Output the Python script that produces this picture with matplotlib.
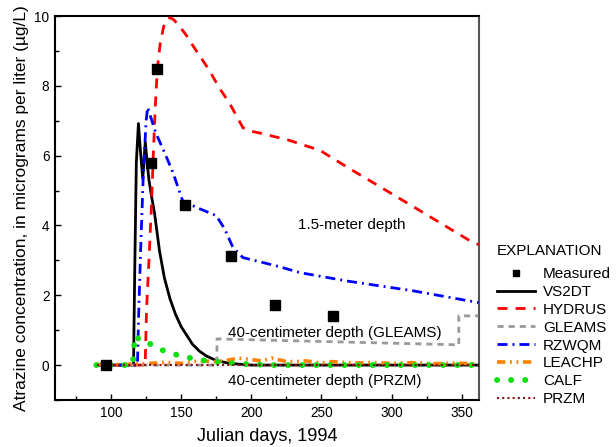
import numpy as np
import matplotlib
matplotlib.use("Agg")
import matplotlib.pyplot as plt
from matplotlib import font_manager

# measured atrazine (ug/L)
meas_days = [96.5, 128.6, 132.4, 152.4, 185.2, 216.7, 258.0]
meas_conc = [0.0, 5.8, 8.48, 4.6, 3.13, 1.71, 1.4]

# VS2DT
vs2dt_days = [90, 116, 116.8, 118, 119.5, 121, 122.6, 123.5, 124.4, 125.5, 127, 129, 131,
              134.5, 138, 142, 146, 150, 154, 158, 163, 168, 175, 182, 190, 200, 362]
vs2dt_conc = [0, 0, 2.5, 5.8, 6.92, 6.1, 5.34, 5.9, 6.39, 5.9, 5.3, 4.8, 4.35,
              3.28, 2.5, 1.9, 1.45, 1.1, 0.85, 0.6, 0.4, 0.26, 0.13, 0.07, 0.03, 0.0, 0.0]

# HYDRUS
hydrus_days = [90, 124.3, 125.3, 127, 128.6, 130, 131.5, 133, 135, 137.5, 140, 142, 144.5, 148,
               153.6, 160, 170, 177, 184.5, 194, 200, 208, 227, 249, 270, 288, 320, 356, 362]
hydrus_conc = [0, 0, 1.6, 3.0, 4.4, 5.9, 7.4, 8.5, 9.2, 9.7, 9.92, 9.95, 9.9, 9.75,
               9.45, 9.05, 8.45, 7.95, 7.5, 6.8, 6.7, 6.63, 6.44, 6.15, 5.63, 5.2, 4.43, 3.56, 3.45]

# GLEAMS
gleams_days = [90, 175.5, 175.5, 348, 348, 362]
gleams_conc = [0, 0, 0.75, 0.58, 1.41, 1.41]

# RZWQM
rzwqm_days = [90, 118.8, 119.7, 121, 123, 125, 126.1, 127.5, 132, 138, 144, 151, 160.7, 175,
              181, 186.9, 194, 220, 234.5, 268, 315, 340, 362]
rzwqm_conc = [0, 0, 1.5, 3.2, 5.5, 7.0, 7.39, 7.2, 6.64, 6.1, 5.53, 4.71, 4.52, 4.28,
              3.9, 3.37, 3.08, 2.82, 2.65, 2.41, 2.13, 1.95, 1.79]

# LEACHP
leachp_days = [90, 110, 125, 139, 150, 163, 175, 183, 191, 200, 207, 215, 225, 232, 239,
               250, 258, 265, 275, 287, 300, 315, 330, 345, 362]
leachp_conc = [0.02, 0.02, 0.04, 0.08, 0.05, 0.12, 0.1, 0.14, 0.2, 0.16, 0.12, 0.2, 0.1, 0.1, 0.12,
               0.06, 0.1, 0.08, 0.06, 0.07, 0.05, 0.07, 0.04, 0.06, 0.03]

# CALF
calf_days = [89.5, 115.5, 116.3, 117, 118, 119.5, 122, 128.6, 138, 148, 158, 168, 180, 195, 215, 362]
calf_conc = [0, 0, 0.5, 0.83, 0.85, 0.75, 0.65, 0.6, 0.4, 0.28, 0.19, 0.12, 0.07, 0.03, 0.0, 0.0]

# PRZM
przm_days = [90, 362]
przm_conc = [0, 0]

legend_order = ['Measured', 'VS2DT', 'HYDRUS', 'GLEAMS', 'RZWQM', 'LEACHP', 'CALF', 'PRZM']

sans = ['Liberation Sans', 'DejaVu Sans']
plt.rcParams['font.family'] = sans

# narrow font for tick numbers if we have one
names = set(f.name for f in font_manager.fontManager.ttflist)
if 'Liberation Sans Narrow' in names:
    tick_family, tick_size = ['Liberation Sans Narrow', 'DejaVu Sans'], 10.5
else:
    tick_family, tick_size = sans, 9.8

fig = plt.figure(figsize=(6.16, 4.47), dpi=100)
ax = fig.add_axes([55 / 616, 47 / 447, 424 / 616, 384 / 447])

ax.plot(vs2dt_days, vs2dt_conc, color='black', lw=2.0, label='VS2DT', zorder=3)
ax.plot(hydrus_days, hydrus_conc, color='#ff0000', lw=2.0, ls=(0, (3.6, 2.9)), label='HYDRUS', zorder=3)
ax.plot(gleams_days, gleams_conc, color='#999999', lw=2.0, ls=(0, (2.2, 1.8)), label='GLEAMS', zorder=3)
ax.plot(rzwqm_days, rzwqm_conc, color='#0000ff', lw=2.0, ls=(0, (3.6, 1.8, 0.7, 1.8)), label='RZWQM', zorder=3)
ax.plot(leachp_days, leachp_conc, color='#ff8000', lw=2.6, ls=(0, (2.3, 1.3, 0.5, 1.3, 0.5, 1.3)),
        label='LEACHP', zorder=3)
ax.plot(calf_days, calf_conc, color='#10e010', lw=4.3, ls=(0, (0.01, 2.35)), dash_capstyle='round',
        label='CALF', zorder=4)
ax.plot(przm_days, przm_conc, color='#8b1010', lw=1.5, ls=(0, (1, 1.5)), label='PRZM', zorder=5)
ax.plot(meas_days, meas_conc, ls='none', marker='s', ms=7.5, color='black', label='Measured', zorder=6)

ax.set_xlim(60, 362.4)
ax.set_ylim(-1, 10)
ax.set_xticks([100, 150, 200, 250, 300, 350])
ax.set_xticks([75, 125, 175, 225, 275, 325], minor=True)
ax.set_yticks([0, 2, 4, 6, 8, 10])
ax.set_yticks([-1, 1, 3, 5, 7, 9], minor=True)
ax.tick_params(which='both', direction='in', top=False, right=False)
ax.tick_params(which='major', length=4.5, width=1, pad=4)
ax.tick_params(which='minor', length=3, width=1)
for lab in ax.get_xticklabels() + ax.get_yticklabels():
    lab.set_family(tick_family)
    lab.set_fontsize(tick_size)
for s in ['left', 'bottom', 'top', 'right']:
    ax.spines[s].set_linewidth(1.5)
ax.spines['right'].set_color('#555555')

ax.set_xlabel('Julian days, 1994', fontsize=13, labelpad=6)
ax.set_ylabel('Atrazine concentration, in micrograms per liter (\u00b5g/L)', fontsize=12.5, labelpad=4)

ax.text(233, 4.02, '1.5-meter depth', fontsize=11, va='center', ha='left')
ax.text(183.3, 0.93, '40-centimeter depth (GLEAMS)', fontsize=11, va='center', ha='left')
ax.text(183.1, -0.46, '40-centimeter depth (PRZM)', fontsize=11, va='center', ha='left')

# explanation box
fig.text(497 / 616, 1 - 251 / 447, 'EXPLANATION', fontsize=11, ha='left', va='center')
h, l = ax.get_legend_handles_labels()
hd = dict(zip(l, h))
leg = fig.legend([hd[k] for k in legend_order], legend_order, loc='upper left',
                 bbox_to_anchor=(497 / 616, 1 - 267 / 447), frameon=False,
                 borderpad=0, borderaxespad=0,
                 fontsize=11, handlelength=2.5, handletextpad=0.5,
                 labelspacing=0.255, markerscale=0.6)

fig.savefig('out.png', dpi=100)
